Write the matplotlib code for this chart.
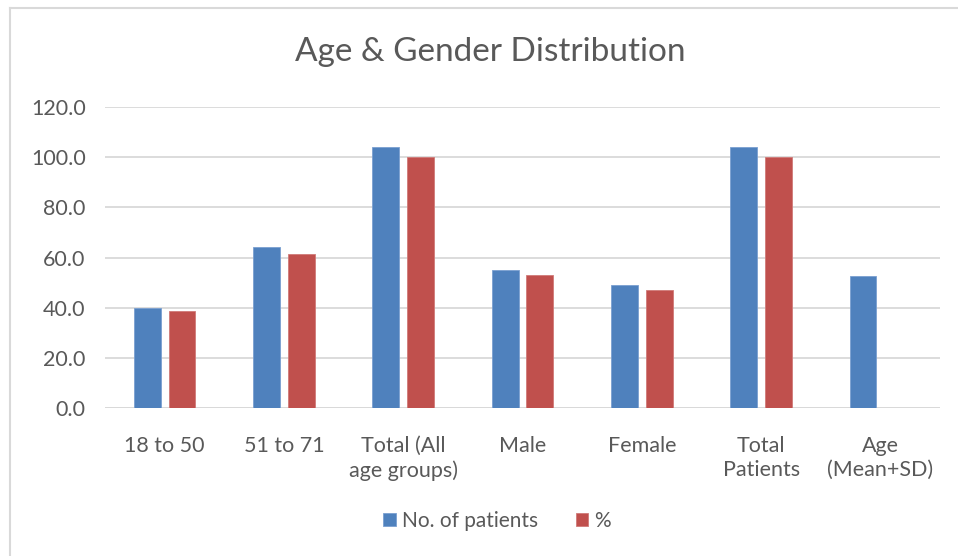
import numpy as np
import matplotlib.pyplot as plt
from matplotlib.lines import Line2D

categories = ['18 to 50', '51 to 71', 'Total (All\nage groups)', 'Male', 'Female',
              'Total\nPatients', 'Age\n(Mean+SD)']
n_patients = [40, 64, 104, 55, 49, 104, 52.7]
percent = [38.5, 61.5, 100, 52.9, 47.1, 100, 0]
yticks = [0, 20, 40, 60, 80, 100, 120]

plt.rcParams['font.family'] = ['Lato', 'DejaVu Sans']
text_color = '#595959'
blue = '#4f81bd'
red = '#c0504d'

fig = plt.figure(figsize=(9.58, 5.56), dpi=100)
ax = fig.add_axes([105 / 958, 1 - 408 / 556, 835 / 958, 301 / 556])

x = np.arange(len(categories))
w = 0.225
off = 0.145
ax.bar(x - off, n_patients, w, color=blue, edgecolor='#7a9fd0', linewidth=0.6,
       label='No. of patients', zorder=3)
ax.bar(x + off, [p if p > 0 else np.nan for p in percent], w, color=red,
       edgecolor='#d07a78', linewidth=0.6, label='%', zorder=3)

ax.set_xlim(-0.5, len(categories) - 0.5)
ax.set_ylim(0, 120)
ax.set_yticks(yticks)
ax.set_yticklabels([f'{v:.1f}' for v in yticks], fontsize=15.5, color=text_color)
ax.set_xticks(x)
ax.set_xticklabels(categories, fontsize=15.5, color=text_color, linespacing=1.25)
ax.tick_params(axis='both', length=0)
ax.tick_params(axis='y', pad=14)
ax.tick_params(axis='x', pad=20)
ax.yaxis.grid(True, color='#d9d9d9', linewidth=1.3, zorder=0)
for s in ax.spines.values():
    s.set_visible(False)
ax.axhline(0, color='#d9d9d9', linewidth=1.3, zorder=2)

fig.text(490 / 958, 1 - 52 / 556, 'Age & Gender Distribution', ha='center', va='center',
         fontsize=24, color=text_color)

leg = fig.legend(loc='center', bbox_to_anchor=(497 / 958, 1 - 521 / 556), ncol=2,
                 frameon=False, fontsize=15, handlelength=0.6, handleheight=0.6,
                 handletextpad=0.3, columnspacing=1.8)
for t in leg.get_texts():
    t.set_color(text_color)

# chart frame (only left/top visible in reference)
fig.add_artist(Line2D([10 / 958, 10 / 958], [0, 1 - 8 / 556], transform=fig.transFigure,
                      color='#d9d9d9', linewidth=1.5))
fig.add_artist(Line2D([10 / 958, 1], [1 - 8 / 556, 1 - 8 / 556], transform=fig.transFigure,
                      color='#d9d9d9', linewidth=1.5))

fig.savefig('out.png', dpi=100)
